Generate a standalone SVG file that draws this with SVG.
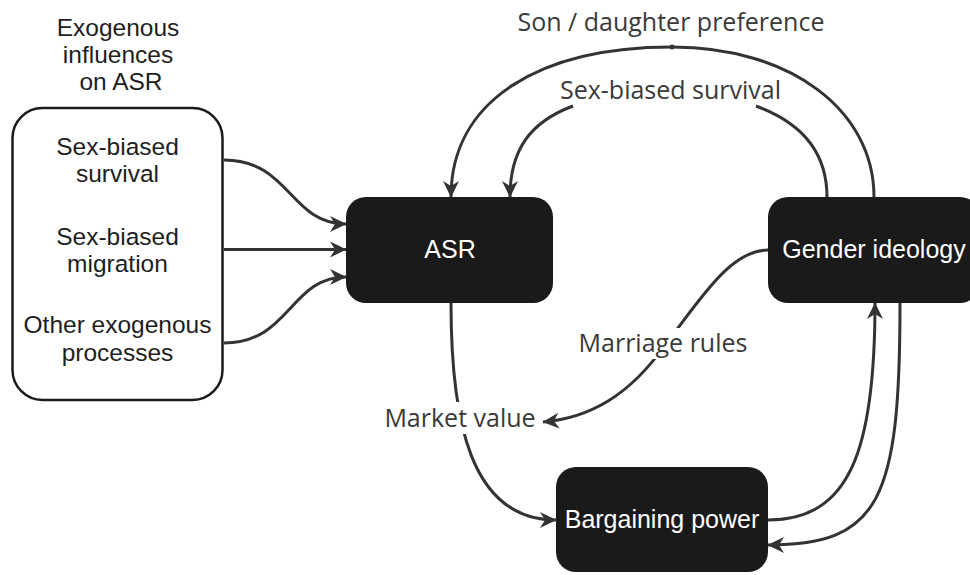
<svg xmlns="http://www.w3.org/2000/svg" width="970" height="575" viewBox="0 0 970 575">
  <style>
    .dark { fill: #1a1a1a; }
    .ntext { font-family: "Liberation Sans", Arial, sans-serif; font-size: 24.5px; fill: #1e1e1e; text-anchor: middle; }
    .wtext { font-family: "Liberation Sans", Arial, sans-serif; font-size: 25px; fill: #ffffff; text-anchor: middle; }
    .lbl { font-family: "Open Sans", "DejaVu Sans", sans-serif; font-size: 25px; fill: #3a3a3a; text-anchor: middle; }
    .edge { fill: none; stroke: #333333; stroke-width: 3; }
  </style>
  <defs>
    <marker id="arr" markerUnits="userSpaceOnUse" markerWidth="17" markerHeight="17" viewBox="0 0 17 17" refX="16" refY="8.5" orient="auto">
      <path d="M0,0.5 L16.5,8.5 L0,16.5 L5,8.5 Z" fill="#333333"/>
    </marker>
  </defs>
  <rect width="970" height="575" fill="#ffffff"/>

  <g id="exogenous">
    <text class="ntext" x="118" y="36">Exogenous</text>
    <text class="ntext" x="118" y="63">influences</text>
    <text class="ntext" x="121" y="90">on ASR</text>
    <rect x="12.5" y="108" width="210" height="292" rx="30" ry="30" fill="#ffffff" stroke="#1a1a1a" stroke-width="2.5"/>
    <text class="ntext" x="117.5" y="155">Sex-biased</text>
    <text class="ntext" x="117.5" y="182">survival</text>
    <text class="ntext" x="117.5" y="245">Sex-biased</text>
    <text class="ntext" x="117.5" y="272">migration</text>
    <text class="ntext" x="117.5" y="333">Other exogenous</text>
    <text class="ntext" x="117.5" y="361">processes</text>
  </g>

  <g id="asr">
    <rect class="dark" x="346" y="197" width="207" height="106" rx="20" ry="20"/>
    <text class="wtext" x="450" y="258">ASR</text>
  </g>

  <g id="gender">
    <rect class="dark" x="768" y="197" width="212" height="106" rx="20" ry="20"/>
    <text class="wtext" x="874" y="258">Gender ideology</text>
  </g>

  <g id="bargaining">
    <rect class="dark" x="556" y="467" width="212" height="105" rx="20" ry="20"/>
    <text class="wtext" x="662" y="528">Bargaining power</text>
  </g>

  <g id="connectors">
    <path class="edge" d="M224,160 C290,160 290,224 346,224" marker-end="url(#arr)"/>
    <path class="edge" d="M224,249.5 L346,249.5" marker-end="url(#arr)"/>
    <path class="edge" d="M224,343 C290,343 290,277 346,277" marker-end="url(#arr)"/>

    <path class="edge" d="M874,197 C874,110 790,47 672,47 C540,47 451,100 451,197" marker-end="url(#arr)"/>
    <circle cx="672" cy="47" r="2.5" fill="#333333"/>

    <path class="edge" d="M827,197 C827,150 800,122 756,106"/>
    <path class="edge" d="M573,106 C530,122 510,150 510,197" marker-end="url(#arr)"/>

    <path class="edge" d="M451,303 C451,420 470,520 556,520" marker-end="url(#arr)"/>
    <path class="edge" d="M768,250 C730,250 700,300 665,345 C630,395 590,418 543,422" marker-end="url(#arr)"/>
    <path class="edge" d="M768,520 C850,520 875,450 875,303" marker-end="url(#arr)"/>
    <path class="edge" d="M900,303 C900,500 880,545 768,545" marker-end="url(#arr)"/>
  </g>

  <g id="labels">
    <text class="lbl" x="671" y="31">Son / daughter preference</text>
    <text class="lbl" x="670.5" y="99">Sex-biased survival</text>
    <rect x="575" y="328" width="176" height="31" fill="#ffffff"/>
    <text class="lbl" x="663" y="352">Marriage rules</text>
    <rect x="382" y="402" width="156" height="32" fill="#ffffff"/>
    <text class="lbl" x="460" y="427">Market value</text>
  </g>
</svg>
